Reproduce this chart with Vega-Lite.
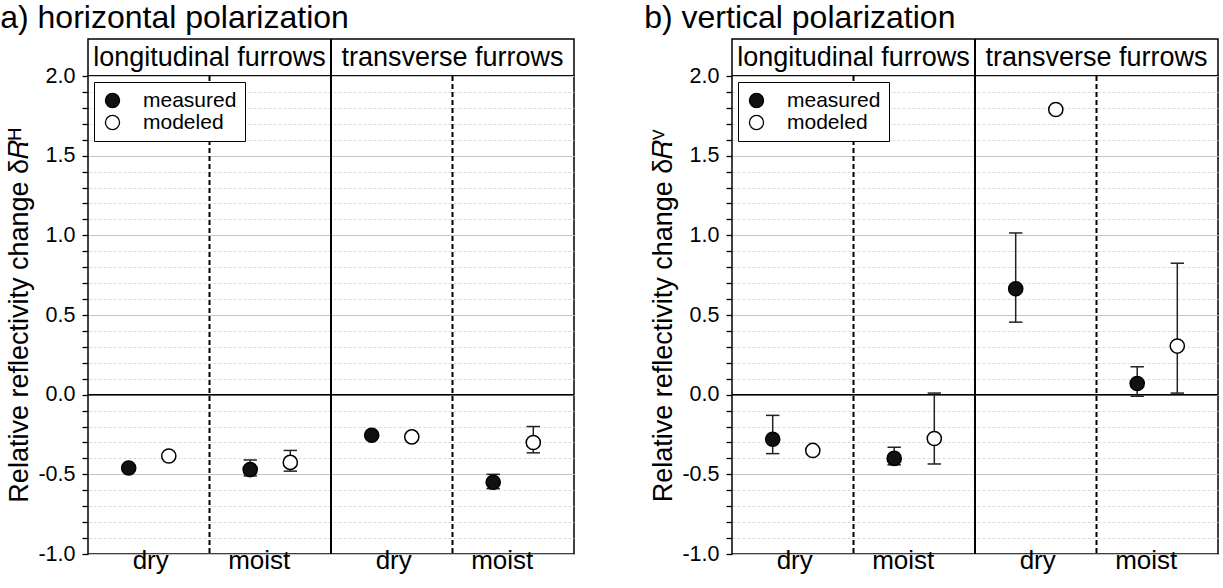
{
  "$schema": "https://vega.github.io/schema/vega-lite/v6.json",
  "background": "white",
  "padding": {"left": 0, "top": 2, "right": 0, "bottom": 0},
  "config": {
    "font": "Liberation Sans",
    "view": {"stroke": "black", "strokeWidth": 1.5},
    "axis": {"labelColor": "black", "titleColor": "black", "labelFont": "Liberation Sans", "titleFont": "Liberation Sans"}
  },
  "datasets": {
    "points": [
      {"pol": "H", "group": "longitudinal dry", "type": "measured", "value": -0.46, "lo": null, "hi": null},
      {"pol": "H", "group": "longitudinal dry", "type": "modeled", "value": -0.385, "lo": null, "hi": null},
      {"pol": "H", "group": "longitudinal moist", "type": "measured", "value": -0.47, "lo": -0.51, "hi": -0.41},
      {"pol": "H", "group": "longitudinal moist", "type": "modeled", "value": -0.425, "lo": -0.48, "hi": -0.35},
      {"pol": "H", "group": "transverse dry", "type": "measured", "value": -0.255, "lo": null, "hi": null},
      {"pol": "H", "group": "transverse dry", "type": "modeled", "value": -0.265, "lo": null, "hi": null},
      {"pol": "H", "group": "transverse moist", "type": "measured", "value": -0.55, "lo": -0.59, "hi": -0.5},
      {"pol": "H", "group": "transverse moist", "type": "modeled", "value": -0.3, "lo": -0.365, "hi": -0.2},
      {"pol": "V", "group": "longitudinal dry", "type": "measured", "value": -0.28, "lo": -0.37, "hi": -0.13},
      {"pol": "V", "group": "longitudinal dry", "type": "modeled", "value": -0.35, "lo": null, "hi": null},
      {"pol": "V", "group": "longitudinal moist", "type": "measured", "value": -0.4, "lo": -0.44, "hi": -0.33},
      {"pol": "V", "group": "longitudinal moist", "type": "modeled", "value": -0.275, "lo": -0.435, "hi": 0.01},
      {"pol": "V", "group": "transverse dry", "type": "measured", "value": 0.665, "lo": 0.455, "hi": 1.015},
      {"pol": "V", "group": "transverse dry", "type": "modeled", "value": 1.79, "lo": null, "hi": null},
      {"pol": "V", "group": "transverse moist", "type": "measured", "value": 0.07, "lo": -0.01, "hi": 0.175},
      {"pol": "V", "group": "transverse moist", "type": "modeled", "value": 0.305, "lo": 0.01, "hi": 0.825}
    ],
    "furrows": [{"furrow": "longitudinal furrows"}, {"furrow": "transverse furrows"}],
    "one": [{}]
  },
  "spacing": 68,
  "resolve": {"scale": {"fill": "independent"}, "legend": {"fill": "independent"}},
  "hconcat": [
    {
      "title": {"text": "a) horizontal polarization", "anchor": "start", "frame": "bounds", "fontSize": 32, "fontWeight": "normal", "font": "Liberation Sans", "offset": 2, "dx": -5, "color": "black"},
      "spacing": 0,
      "bounds": "flush",
      "resolve": {"scale": {"fill": "independent"}, "legend": {"fill": "independent"}},
      "vconcat": [
        {
          "width": 486,
          "height": 37,
          "data": {"name": "furrows"},
          "layer": [
            {
              "mark": {"type": "text", "fontSize": 27, "color": "black", "align": "center", "baseline": "middle"},
              "encoding": {
                "x": {"field": "furrow", "type": "nominal", "scale": {"domain": ["longitudinal furrows", "transverse furrows"], "paddingInner": 0, "paddingOuter": 0}, "axis": null},
                "text": {"field": "furrow"}
              }
            },
            {
              "data": {"name": "one"},
              "mark": {"type": "rule", "color": "black", "strokeWidth": 2},
              "encoding": {"x": {"datum": "transverse furrows", "type": "nominal", "bandPosition": 0}}
            }
          ]
        },
        {
          "width": 486,
          "height": 478,
          "data": {"name": "points"},
          "transform": [{"filter": "datum.pol == 'H'"}],
          "layer": [
            {
              "data": {"name": "one"},
              "mark": {"type": "rule", "color": "black", "strokeWidth": 1.5},
              "encoding": {
                "y": {"datum": 0, "type": "quantitative", "scale": {"domain": [-1, 2], "nice": false, "zero": false},
                  "axis": {
                    "values": [-1, -0.9, -0.8, -0.7, -0.6, -0.5, -0.4, -0.3, -0.2, -0.1, 0, 0.1, 0.2, 0.3, 0.4, 0.5, 0.6, 0.7, 0.8, 0.9, 1, 1.1, 1.2, 1.3, 1.4, 1.5, 1.6, 1.7, 1.8, 1.9, 2],
                    "tickCount": 100,
                    "labelExpr": "abs(datum.value*2 - round(datum.value*2)) < 0.01 ? replace(format(datum.value, '.1f'), '\u2212', '-') : ''",
                    "labelOverlap": false,
                    "labelFontSize": 21.5, "labelPadding": 7,
                    "tickSize": 6,
                    "tickColor": "black", "tickWidth": 1.3,
                    "domain": false,
                    "grid": true,
                    "gridColor": {"condition": {"test": "abs(datum.value*2 - round(datum.value*2)) < 0.01", "value": "#c4c4c4"}, "value": "#dadada"},
                    "gridDash": {"condition": {"test": "abs(datum.value*2 - round(datum.value*2)) < 0.01", "value": []}, "value": [3, 2]},
                    "gridWidth": 1,
                    "title": "Relative reflectivity change δ𝑅ᴴ",
                    "titleFontSize": 27, "titleFontWeight": "normal", "titlePadding": 4
                  }
                }
              }
            },
            {
              "data": {"name": "one"},
              "mark": {"type": "rule", "color": "black", "strokeWidth": 2, "strokeDash": [5, 3]},
              "encoding": {"x": {"datum": "longitudinal moist", "type": "nominal", "bandPosition": 0}}
            },
            {
              "data": {"name": "one"},
              "mark": {"type": "rule", "color": "black", "strokeWidth": 2, "strokeDash": [5, 3]},
              "encoding": {"x": {"datum": "transverse moist", "type": "nominal", "bandPosition": 0}}
            },
            {
              "data": {"name": "one"},
              "mark": {"type": "rule", "color": "black", "strokeWidth": 2},
              "encoding": {"x": {"datum": "transverse dry", "type": "nominal", "bandPosition": 0}}
            },
            {
              "transform": [{"filter": "datum.lo != null && datum.type == 'measured'"}],
              "mark": {"type": "rule", "color": "#222", "strokeWidth": 1.5},
              "encoding": {
                "x": {"field": "group", "type": "nominal", "bandPosition": 0.335},
                "y": {"field": "lo", "type": "quantitative"},
                "y2": {"field": "hi"}
              }
            },
            {
              "transform": [{"filter": "datum.lo != null && datum.type == 'modeled'"}],
              "mark": {"type": "rule", "color": "#222", "strokeWidth": 1.5},
              "encoding": {
                "x": {"field": "group", "type": "nominal", "bandPosition": 0.665},
                "y": {"field": "lo", "type": "quantitative"},
                "y2": {"field": "hi"}
              }
            },
            {
              "transform": [{"filter": "datum.lo != null && datum.type == 'measured'"}, {"fold": ["lo", "hi"], "as": ["end", "bound"]}],
              "mark": {"type": "rule", "color": "#222", "strokeWidth": 1.5},
              "encoding": {
                "x": {"field": "group", "type": "nominal", "bandPosition": 0.28},
                "x2": {"field": "group", "bandPosition": 0.39},
                "y": {"field": "bound", "type": "quantitative"}
              }
            },
            {
              "transform": [{"filter": "datum.lo != null && datum.type == 'modeled'"}, {"fold": ["lo", "hi"], "as": ["end", "bound"]}],
              "mark": {"type": "rule", "color": "#222", "strokeWidth": 1.5},
              "encoding": {
                "x": {"field": "group", "type": "nominal", "bandPosition": 0.61},
                "x2": {"field": "group", "bandPosition": 0.72},
                "y": {"field": "bound", "type": "quantitative"}
              }
            },
            {
              "transform": [{"filter": "datum.type == 'measured'"}],
              "mark": {"type": "circle", "size": 200, "stroke": "black", "strokeWidth": 1.5, "opacity": 1},
              "encoding": {
                "x": {"field": "group", "type": "nominal", "bandPosition": 0.335,
                  "scale": {"domain": ["longitudinal dry", "longitudinal moist", "transverse dry", "transverse moist"], "paddingInner": 0, "paddingOuter": 0},
                  "axis": {"title": null, "labelExpr": "split(datum.label, ' ')[1]", "labelAngle": 0, "labelFontSize": 26, "ticks": false, "domain": false, "labelPadding": 6, "labelOffset": 20, "labelColor": "black"}},
                "y": {"field": "value", "type": "quantitative"},
                "fill": {"field": "type", "type": "nominal", "scale": {"domain": ["measured", "modeled"], "range": ["#111111", "white"]},
                  "legend": {"title": null, "orient": "top-left", "offset": 6, "strokeColor": "black", "fillColor": "white", "padding": 8, "labelFontSize": 21, "labelOffset": 20, "symbolSize": 200, "symbolType": "circle", "symbolStrokeColor": "black", "symbolStrokeWidth": 1.3, "rowPadding": 0, "labelColor": "black"}}
              }
            },
            {
              "transform": [{"filter": "datum.type == 'modeled'"}],
              "mark": {"type": "circle", "size": 200, "stroke": "black", "strokeWidth": 1.5, "opacity": 1},
              "encoding": {
                "x": {"field": "group", "type": "nominal", "bandPosition": 0.665},
                "y": {"field": "value", "type": "quantitative"},
                "fill": {"field": "type", "type": "nominal"}
              }
            }
          ]
        }
      ]
    },
    {
      "title": {"text": "b) vertical polarization", "anchor": "start", "frame": "bounds", "fontSize": 32, "fontWeight": "normal", "font": "Liberation Sans", "offset": 2, "dx": -5, "color": "black"},
      "spacing": 0,
      "bounds": "flush",
      "resolve": {"scale": {"fill": "independent"}, "legend": {"fill": "independent"}},
      "vconcat": [
        {
          "width": 486,
          "height": 37,
          "data": {"name": "furrows"},
          "layer": [
            {
              "mark": {"type": "text", "fontSize": 27, "color": "black", "align": "center", "baseline": "middle"},
              "encoding": {
                "x": {"field": "furrow", "type": "nominal", "scale": {"domain": ["longitudinal furrows", "transverse furrows"], "paddingInner": 0, "paddingOuter": 0}, "axis": null},
                "text": {"field": "furrow"}
              }
            },
            {
              "data": {"name": "one"},
              "mark": {"type": "rule", "color": "black", "strokeWidth": 2},
              "encoding": {"x": {"datum": "transverse furrows", "type": "nominal", "bandPosition": 0}}
            }
          ]
        },
        {
          "width": 486,
          "height": 478,
          "data": {"name": "points"},
          "transform": [{"filter": "datum.pol == 'V'"}],
          "layer": [
            {
              "data": {"name": "one"},
              "mark": {"type": "rule", "color": "black", "strokeWidth": 1.5},
              "encoding": {
                "y": {"datum": 0, "type": "quantitative", "scale": {"domain": [-1, 2], "nice": false, "zero": false},
                  "axis": {
                    "values": [-1, -0.9, -0.8, -0.7, -0.6, -0.5, -0.4, -0.3, -0.2, -0.1, 0, 0.1, 0.2, 0.3, 0.4, 0.5, 0.6, 0.7, 0.8, 0.9, 1, 1.1, 1.2, 1.3, 1.4, 1.5, 1.6, 1.7, 1.8, 1.9, 2],
                    "tickCount": 100,
                    "labelExpr": "abs(datum.value*2 - round(datum.value*2)) < 0.01 ? replace(format(datum.value, '.1f'), '\u2212', '-') : ''",
                    "labelOverlap": false,
                    "labelFontSize": 21.5, "labelPadding": 7,
                    "tickSize": 6,
                    "tickColor": "black", "tickWidth": 1.3,
                    "domain": false,
                    "grid": true,
                    "gridColor": {"condition": {"test": "abs(datum.value*2 - round(datum.value*2)) < 0.01", "value": "#c4c4c4"}, "value": "#dadada"},
                    "gridDash": {"condition": {"test": "abs(datum.value*2 - round(datum.value*2)) < 0.01", "value": []}, "value": [3, 2]},
                    "gridWidth": 1,
                    "title": "Relative reflectivity change δ𝑅ⱽ",
                    "titleFontSize": 27, "titleFontWeight": "normal", "titlePadding": 4
                  }
                }
              }
            },
            {
              "data": {"name": "one"},
              "mark": {"type": "rule", "color": "black", "strokeWidth": 2, "strokeDash": [5, 3]},
              "encoding": {"x": {"datum": "longitudinal moist", "type": "nominal", "bandPosition": 0}}
            },
            {
              "data": {"name": "one"},
              "mark": {"type": "rule", "color": "black", "strokeWidth": 2, "strokeDash": [5, 3]},
              "encoding": {"x": {"datum": "transverse moist", "type": "nominal", "bandPosition": 0}}
            },
            {
              "data": {"name": "one"},
              "mark": {"type": "rule", "color": "black", "strokeWidth": 2},
              "encoding": {"x": {"datum": "transverse dry", "type": "nominal", "bandPosition": 0}}
            },
            {
              "transform": [{"filter": "datum.lo != null && datum.type == 'measured'"}],
              "mark": {"type": "rule", "color": "#222", "strokeWidth": 1.5},
              "encoding": {
                "x": {"field": "group", "type": "nominal", "bandPosition": 0.335},
                "y": {"field": "lo", "type": "quantitative"},
                "y2": {"field": "hi"}
              }
            },
            {
              "transform": [{"filter": "datum.lo != null && datum.type == 'modeled'"}],
              "mark": {"type": "rule", "color": "#222", "strokeWidth": 1.5},
              "encoding": {
                "x": {"field": "group", "type": "nominal", "bandPosition": 0.665},
                "y": {"field": "lo", "type": "quantitative"},
                "y2": {"field": "hi"}
              }
            },
            {
              "transform": [{"filter": "datum.lo != null && datum.type == 'measured'"}, {"fold": ["lo", "hi"], "as": ["end", "bound"]}],
              "mark": {"type": "rule", "color": "#222", "strokeWidth": 1.5},
              "encoding": {
                "x": {"field": "group", "type": "nominal", "bandPosition": 0.28},
                "x2": {"field": "group", "bandPosition": 0.39},
                "y": {"field": "bound", "type": "quantitative"}
              }
            },
            {
              "transform": [{"filter": "datum.lo != null && datum.type == 'modeled'"}, {"fold": ["lo", "hi"], "as": ["end", "bound"]}],
              "mark": {"type": "rule", "color": "#222", "strokeWidth": 1.5},
              "encoding": {
                "x": {"field": "group", "type": "nominal", "bandPosition": 0.61},
                "x2": {"field": "group", "bandPosition": 0.72},
                "y": {"field": "bound", "type": "quantitative"}
              }
            },
            {
              "transform": [{"filter": "datum.type == 'measured'"}],
              "mark": {"type": "circle", "size": 200, "stroke": "black", "strokeWidth": 1.5, "opacity": 1},
              "encoding": {
                "x": {"field": "group", "type": "nominal", "bandPosition": 0.335,
                  "scale": {"domain": ["longitudinal dry", "longitudinal moist", "transverse dry", "transverse moist"], "paddingInner": 0, "paddingOuter": 0},
                  "axis": {"title": null, "labelExpr": "split(datum.label, ' ')[1]", "labelAngle": 0, "labelFontSize": 26, "ticks": false, "domain": false, "labelPadding": 6, "labelOffset": 20, "labelColor": "black"}},
                "y": {"field": "value", "type": "quantitative"},
                "fill": {"field": "type", "type": "nominal", "scale": {"domain": ["measured", "modeled"], "range": ["#111111", "white"]},
                  "legend": {"title": null, "orient": "top-left", "offset": 6, "strokeColor": "black", "fillColor": "white", "padding": 8, "labelFontSize": 21, "labelOffset": 20, "symbolSize": 200, "symbolType": "circle", "symbolStrokeColor": "black", "symbolStrokeWidth": 1.3, "rowPadding": 0, "labelColor": "black"}}
              }
            },
            {
              "transform": [{"filter": "datum.type == 'modeled'"}],
              "mark": {"type": "circle", "size": 200, "stroke": "black", "strokeWidth": 1.5, "opacity": 1},
              "encoding": {
                "x": {"field": "group", "type": "nominal", "bandPosition": 0.665},
                "y": {"field": "value", "type": "quantitative"},
                "fill": {"field": "type", "type": "nominal"}
              }
            }
          ]
        }
      ]
    }
  ]
}
